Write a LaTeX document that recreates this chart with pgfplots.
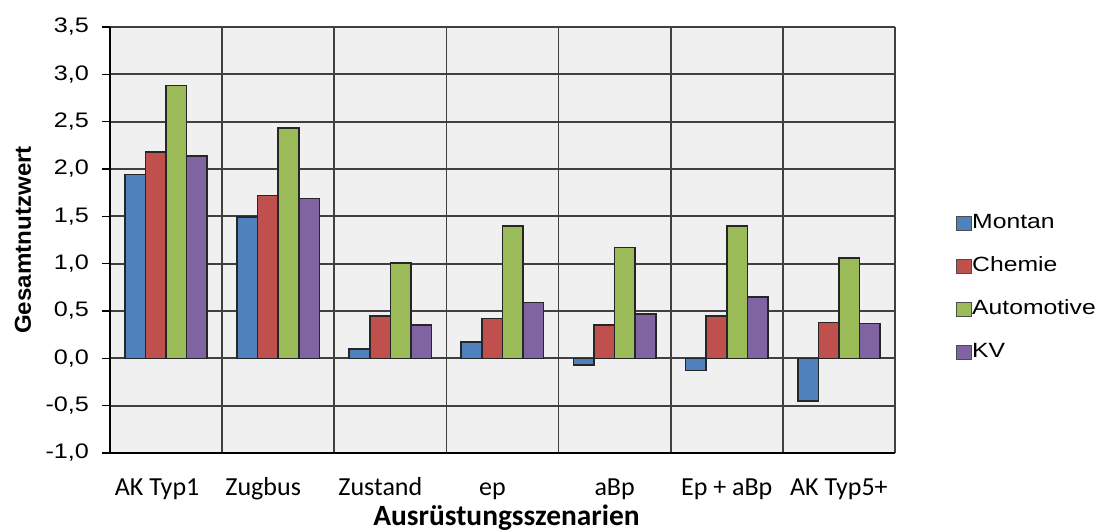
\documentclass[border=0pt]{standalone}
\usepackage{pgfplots}
\pgfplotsset{compat=1.18}
\usepackage{fontspec}
\setmainfont{Liberation Sans}
\newfontfamily\calib{Carlito}
\newfontfamily\legfont[FakeStretch=1.2]{Liberation Sans}
\newfontfamily\ylabfont[FakeStretch=1.05]{Liberation Sans}
\definecolor{cMon}{HTML}{4F81BD}
\definecolor{cChe}{HTML}{C0504D}
\definecolor{cAut}{HTML}{9BBB59}
\definecolor{cKV}{HTML}{8064A2}
\definecolor{bgc}{HTML}{F0F0F0}
\begin{document}
\begin{tikzpicture}
\path[use as bounding box] (-55pt,-39pt) rectangle (495pt,226.5pt);
\begin{axis}[
  at={(0,0)}, anchor=south west,
  scale only axis, width=392.5pt, height=213pt,
  ybar=0pt, bar width=10.3pt,
  xmin=-0.5, xmax=6.5, ymin=-1, ymax=3.5,
  ytick={-1,-0.5,...,3.5},
  xtick={0,1,2,3,4,5,6},
  xticklabels={\hspace*{-9pt}AK Typ1, \hspace*{-15pt}Zugbus, \hspace*{-10pt}Zustand, \hspace*{-10pt}ep, aBp, Ep + aBp, AK Typ5+},
  x tick label style={font=\calib\fontsize{13}{14}\selectfont, anchor=base, yshift=-17pt},
  y tick label style={font=\legfont\fontsize{10.5}{12}\selectfont, xshift=-3pt},
  minor xtick={-0.5,0.5,...,6.5},
  xminorgrids=true, ymajorgrids=true,
  major x tick style={draw=none},
  minor x tick style={draw=none},
  major y tick style={black, thick},
  tick align=outside, major tick length=4pt,
  ytick pos=left,
  grid style={black!75, line width=0.9pt},
  minor grid style={black!75, line width=0.9pt},
  axis background/.style={fill=bgc},
  axis x line*=bottom, axis y line*=left,
  axis line style={black, line width=0.9pt},
  y tick label style={/pgf/number format/.cd, fixed, fixed zerofill, precision=1, use comma, assume math mode=true},
  xlabel={\calib\bfseries Ausrüstungsszenarien},
  xlabel style={font=\fontsize{14.7}{16}\selectfont, at={(axis description cs:0.5,0)}, anchor=base, yshift=-36pt, xshift=2pt},
  ylabel={\ylabfont\bfseries Gesamtnutzwert},
  ylabel style={font=\fontsize{11.5}{14}\selectfont, at={(axis description cs:-0.1108,0.5)}, anchor=center},
  legend style={at={(1,0.387)}, anchor=west, xshift=30.5pt, draw=none, fill=none, inner sep=0pt,
    font=\legfont\fontsize{10.3}{12}\selectfont, row sep=12.5pt,
    nodes={inner sep=0pt, text height=7pt, text depth=2pt},
    /tikz/every even column/.append style={column sep=2.5pt}},
  legend cell align=left,
  legend image code/.code={\draw[#1, draw=black!70, line width=0.4pt] (0pt,-3.5pt) rectangle (7.5pt,3.5pt);},
  every axis plot/.append style={draw=black!85, line width=0.8pt},
]
\addplot[fill=cMon] coordinates {(0,1.94) (1,1.49) (2,0.10) (3,0.17) (4,-0.07) (5,-0.13) (6,-0.45)};
\addplot[fill=cChe] coordinates {(0,2.18) (1,1.72) (2,0.45) (3,0.42) (4,0.35) (5,0.45) (6,0.38)};
\addplot[fill=cAut] coordinates {(0,2.88) (1,2.43) (2,1.01) (3,1.40) (4,1.17) (5,1.40) (6,1.06)};
\addplot[fill=cKV] coordinates {(0,2.14) (1,1.69) (2,0.35) (3,0.59) (4,0.47) (5,0.65) (6,0.37)};
\legend{Montan, Chemie, Automotive, KV}
\end{axis}
\end{tikzpicture}
\end{document}
